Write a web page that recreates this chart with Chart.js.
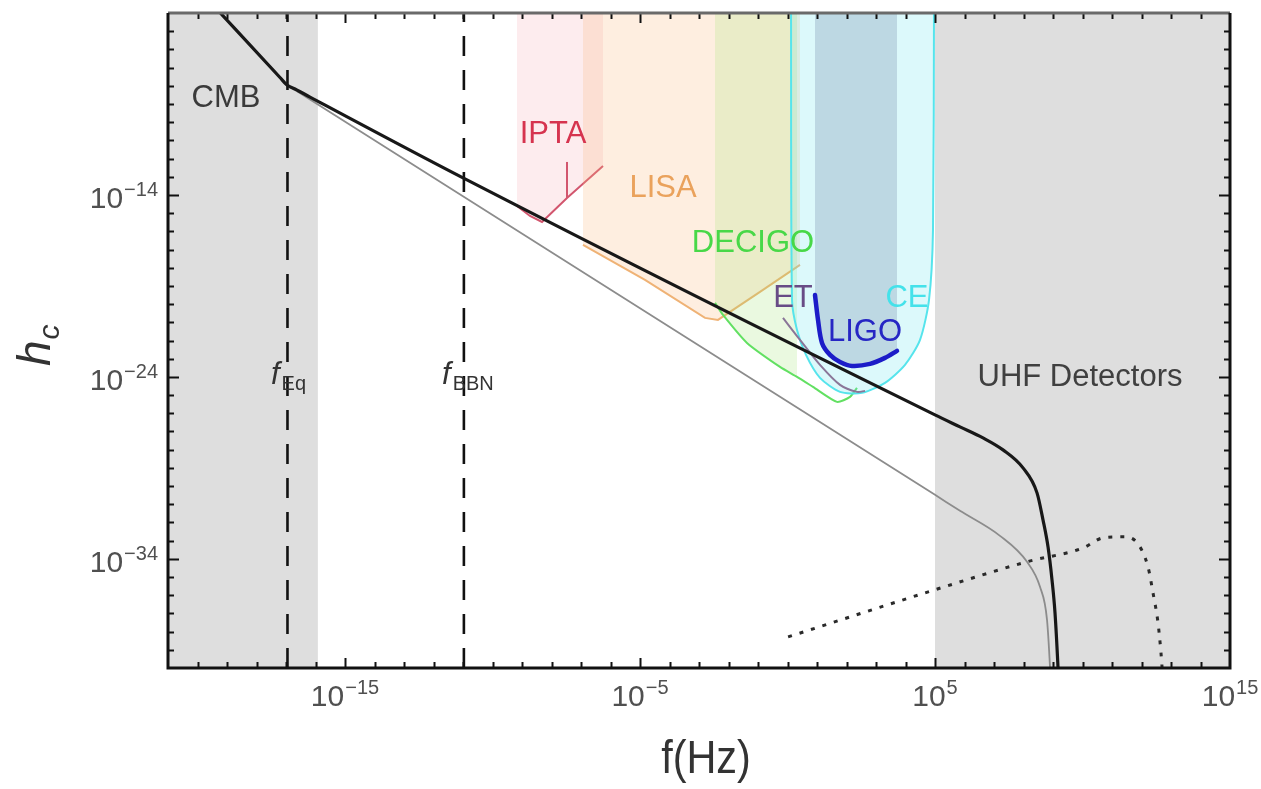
<!DOCTYPE html>
<html>
<head>
<meta charset="utf-8">
<title>Characteristic strain spectrum</title>
<script src="https://cdn.jsdelivr.net/npm/chart.js@4.4.1/dist/chart.umd.min.js"></script>
<style>
  html, body { margin: 0; padding: 0; background: #ffffff; }
  canvas { display: block; }
</style>
</head>
<body>
<canvas id="chart" width="1261" height="789"></canvas>
<script>
// All values are base-10 exponents: f in Hz, h_c dimensionless.

// Axis extent and labelled decades
const xRangeExp = [-21, 15];
const yRangeExp = [-40, -4];
const xTickExps = [-15, -5, 5, 15];
const yTickExps = [-14, -24, -34];

// Characteristic strain of the signal (solid black)
const signalFreqExp   = [-19.475, -17.203, -16.966, -16.695, -16.186, -10.932, 5.000, 5.847, 6.627, 7.305, 7.983, 8.458, 8.661, 8.831, 8.966, 9.068, 9.169, 9.203];
const signalStrainExp = [-3.560, -7.544, -7.956, -8.176, -8.621, -13.121, -26.088, -26.747, -27.352, -28.011, -29.000, -30.374, -31.857, -33.341, -35.154, -36.967, -39.934, -41.198];

// Reference spectrum (thin grey)
const referenceFreqExp   = [-19.475, -17.203, -16.966, -16.695, -16.186, 5.000, 5.847, 7.203, 8.119, 8.559, 8.797, 8.898, 8.932];
const referenceStrainExp = [-3.560, -7.544, -7.956, -8.231, -8.758, -30.484, -31.363, -32.736, -34.165, -35.538, -37.352, -39.934, -41.198];

// High-frequency component (dotted)
const dottedFreqExp   = [0.02, 5.00, 8.12, 10.02, 10.69, 11.37, 11.85, 12.22, 12.39, 12.56, 12.66, 12.72];
const dottedStrainExp = [-38.29, -35.70, -34.16, -33.40, -32.85, -32.79, -33.12, -34.44, -35.87, -37.52, -39.16, -40.50];

// Detector sensitivity curves
const iptaFreqExp     = [-9.169, -8.729, -8.322, -7.475, -6.254];
const iptaStrainExp   = [-14.604, -15.154, -15.484, -14.165, -12.407];
const iptaSpikeFreqExp   = [-7.475, -7.475];
const iptaSpikeStrainExp = [-14.165, -12.187];

const lisaFreqExp     = [-6.932, -4.831, -2.797, -2.356, -0.932, 0.424];
const lisaStrainExp   = [-16.747, -18.670, -20.758, -20.868, -19.330, -17.846];

const decigoFreqExp   = [-2.458, -2.186, -1.373, -0.254, 0.322, 0.864, 1.678, 2.119, 2.356];
const decigoStrainExp = [-19.934, -20.593, -22.132, -23.451, -24.000, -24.549, -25.374, -25.099, -24.604];
const decigoShadedPoints = 5;   // the shaded DECIGO band stops where the CE band begins

const ceFreqExp       = [0.119, 0.153, 0.322, 0.627, 1.102, 1.780, 2.525, 3.305, 3.983, 4.492, 4.797, 4.932, 4.966];
const ceStrainExp     = [-3.286, -19.769, -21.418, -22.791, -24.055, -24.824, -24.879, -24.330, -23.341, -21.967, -19.769, -15.923, -3.286];

const etFreqExp       = [-0.153, 0.424, 1.102, 1.780, 2.356, 2.627];
const etStrainExp     = [-20.758, -21.967, -23.341, -24.440, -24.824, -24.769];

const ligoFreqExp     = [0.932, 1.034, 1.169, 1.441, 1.780, 2.186, 2.797, 3.305, 3.712];
const ligoStrainExp   = [-19.495, -20.868, -22.132, -22.791, -23.176, -23.396, -23.286, -22.956, -22.571];

// Excluded / unprobed frequency bands (grey)
const cmbBandExp = [-21, -15.92];
const uhfBandExp = [5, 15];

// Characteristic frequencies (dashed verticals)
const fEqExp  = -16.95;
const fBBNExp = -10.97;

const toPoints = (fx, hx) => fx.map((f, i) => ({ x: Math.pow(10, f), y: Math.pow(10, hx[i]) }));
const vertical = (fx) => [{ x: Math.pow(10, fx), y: Math.pow(10, yRangeExp[0]) }, { x: Math.pow(10, fx), y: Math.pow(10, yRangeExp[1]) }];

const FONT = '"Liberation Sans", Arial, Helvetica, sans-serif';

// Text annotations, anchored in data coordinates
const annotations = [
  { text: 'CMB',           f: -19.034, h: -8.670,  color: '#3a3a3a' },
  { text: 'IPTA',          f: -7.949,  h: -10.648, color: '#d6344f' },
  { text: 'LISA',          f: -4.220,  h: -13.670, color: '#eaa25c' },
  { text: 'DECIGO',        f: -1.169,  h: -16.692, color: '#48d848' },
  { text: 'ET',            f: 0.186,   h: -19.715, color: '#684c86' },
  { text: 'LIGO',          f: 2.627,   h: -21.582, color: '#2626c4' },
  { text: 'CE',            f: 4.051,   h: -19.715, color: '#44e2ea' },
  { text: 'UHF Detectors', f: 9.915,   h: -24.055, color: '#404040' }
];

function drawPower(ctx, exp, x, y, align) {
  const base = '10';
  const sup = exp < 0 ? '\u2212' + Math.abs(exp) : String(exp);
  ctx.font = '30px ' + FONT;
  const wb = ctx.measureText(base).width;
  ctx.font = '20px ' + FONT;
  const ws = ctx.measureText(sup).width;
  const total = wb + 1 + ws;
  const left = align === 'right' ? x - total : x - total / 2;
  ctx.textAlign = 'left';
  ctx.textBaseline = 'alphabetic';
  ctx.font = '30px ' + FONT;
  ctx.fillText(base, left, y);
  ctx.font = '20px ' + FONT;
  ctx.fillText(sup, left + wb + 1, y - 12);
}

function drawSubscripted(ctx, main, sub, cx, baseline, mainSize, subSize, subDrop) {
  ctx.font = 'italic ' + mainSize + 'px ' + FONT;
  const wm = ctx.measureText(main).width;
  ctx.font = subSize + 'px ' + FONT;
  const ws = ctx.measureText(sub).width;
  const left = cx - (wm + 2 + ws) / 2;
  ctx.textAlign = 'left';
  ctx.textBaseline = 'alphabetic';
  ctx.font = 'italic ' + mainSize + 'px ' + FONT;
  ctx.fillText(main, left, baseline);
  ctx.font = subSize + 'px ' + FONT;
  ctx.fillText(sub, left + wm + 2, baseline + subDrop);
}

const decorations = {
  id: 'decorations',
  beforeDatasetsDraw(chart) {
    const { ctx, chartArea: a, scales: { x } } = chart;
    ctx.save();
    ctx.fillStyle = '#dedede';
    for (const band of [cmbBandExp, uhfBandExp]) {
      const x0 = x.getPixelForValue(Math.pow(10, band[0]));
      const x1 = x.getPixelForValue(Math.pow(10, band[1]));
      ctx.fillRect(x0, a.top, x1 - x0, a.bottom - a.top);
    }
    ctx.restore();
  },
  afterDatasetsDraw(chart) {
    const { ctx, scales: { x, y } } = chart;
    ctx.save();
    ctx.textAlign = 'center';
    ctx.textBaseline = 'middle';
    ctx.font = '31px ' + FONT;
    for (const a of annotations) {
      ctx.fillStyle = a.color;
      ctx.fillText(a.text, x.getPixelForValue(Math.pow(10, a.f)), y.getPixelForValue(Math.pow(10, a.h)));
    }
    // Labels of the characteristic frequencies
    ctx.fillStyle = '#333333';
    const labelY = y.getPixelForValue(Math.pow(10, -24.4));
    drawSubscripted(ctx, 'f', 'Eq', x.getPixelForValue(Math.pow(10, fEqExp)) + 1, labelY, 31, 20, 6);
    drawSubscripted(ctx, 'f', 'BBN', x.getPixelForValue(Math.pow(10, fBBNExp)) + 4, labelY, 31, 20, 6);
    ctx.restore();
  },
  afterDraw(chart) {
    const { ctx, chartArea: a, scales: { x, y } } = chart;
    ctx.save();
    // Inward ticks on all four sides
    ctx.strokeStyle = '#111111';
    ctx.lineWidth = 2;
    ctx.beginPath();
    for (let e = xRangeExp[0] + 1; e < xRangeExp[1]; e++) {
      const px = Math.round(x.getPixelForValue(Math.pow(10, e))) + 0.5;
      const len = xTickExps.includes(e) ? 10 : 6;
      ctx.moveTo(px, a.bottom); ctx.lineTo(px, a.bottom - len);
      ctx.moveTo(px, a.top); ctx.lineTo(px, a.top + len);
    }
    for (let e = yRangeExp[0] + 1; e < yRangeExp[1]; e++) {
      const py = Math.round(y.getPixelForValue(Math.pow(10, e))) + 0.5;
      const len = yTickExps.includes(e) ? 11 : 6;
      ctx.moveTo(a.left, py); ctx.lineTo(a.left + len, py);
      ctx.moveTo(a.right, py); ctx.lineTo(a.right - len, py);
    }
    ctx.stroke();

    // Frame
    ctx.lineWidth = 3;
    ctx.strokeStyle = '#6a6a6a';
    ctx.beginPath(); ctx.moveTo(a.left, a.top); ctx.lineTo(a.right, a.top); ctx.stroke();
    ctx.strokeStyle = '#111111';
    ctx.beginPath();
    ctx.moveTo(a.right, a.top); ctx.lineTo(a.right, a.bottom);
    ctx.lineTo(a.left, a.bottom); ctx.lineTo(a.left, a.top);
    ctx.stroke();

    // Tick labels
    ctx.fillStyle = '#505050';
    for (const e of xTickExps) {
      drawPower(ctx, e, x.getPixelForValue(Math.pow(10, e)), a.bottom + 38, 'center');
    }
    for (const e of yTickExps) {
      drawPower(ctx, e, a.left - 10, y.getPixelForValue(Math.pow(10, e)) + 13, 'right');
    }

    // Axis titles
    ctx.fillStyle = '#333333';
    ctx.save();
    ctx.translate(706, 773);
    ctx.scale(0.9, 1);
    ctx.textAlign = 'center';
    ctx.textBaseline = 'alphabetic';
    ctx.font = '46px ' + FONT;
    ctx.fillText('f(Hz)', 0, 0);
    ctx.restore();

    ctx.save();
    ctx.translate(50, 366);
    ctx.rotate(-Math.PI / 2);
    ctx.textAlign = 'left';
    ctx.textBaseline = 'alphabetic';
    ctx.font = 'italic 46px ' + FONT;
    ctx.fillText('h', 0, 0);
    const wh = ctx.measureText('h').width;
    ctx.font = 'italic 30px ' + FONT;
    ctx.fillText('c', wh + 1, 9);
    ctx.restore();

    ctx.restore();
  }
};

const curve = (data, color, width, order, extra) => Object.assign({
  data, borderColor: color, borderWidth: width, order,
  pointRadius: 0, fill: false, tension: 0, clip: 0
}, extra || {});

const smooth = { cubicInterpolationMode: 'monotone' };

new Chart(document.getElementById('chart'), {
  type: 'line',
  data: {
    datasets: [
      curve(toPoints(signalFreqExp, signalStrainExp), '#181818', 3.2, 1, smooth),
      curve(toPoints(dottedFreqExp, dottedStrainExp), '#2a2a2a', 3, 2, Object.assign({ borderDash: [4, 8] }, smooth)),
      curve(toPoints(referenceFreqExp, referenceStrainExp), '#8c8c8c', 1.8, 3, smooth),
      curve(vertical(fEqExp), '#111111', 2.6, 4, { borderDash: [20, 14] }),
      curve(vertical(fBBNExp), '#111111', 2.6, 4, { borderDash: [20, 14] }),
      curve(toPoints(ligoFreqExp, ligoStrainExp), '#1c1cc8', 4.5, 5, { fill: 'end', backgroundColor: 'rgba(55,75,120,0.19)', borderCapStyle: 'round', tension: 0.3 }),
      curve(toPoints(etFreqExp, etStrainExp), '#8a7698', 2, 6, { tension: 0.3 }),
      curve(toPoints(ceFreqExp, ceStrainExp), '#56e4ec', 2, 7, { fill: 'end', backgroundColor: 'rgba(110,228,240,0.24)', tension: 0.25 }),
      curve(toPoints(decigoFreqExp, decigoStrainExp), '#62e062', 2, 8, { tension: 0.2 }),
      curve(toPoints(decigoFreqExp.slice(0, decigoShadedPoints), decigoStrainExp.slice(0, decigoShadedPoints)), 'rgba(0,0,0,0)', 0, 8, { fill: 'end', backgroundColor: 'rgba(150,225,100,0.20)' }),
      curve(toPoints(lisaFreqExp, lisaStrainExp), '#efb275', 2, 9, { fill: 'end', backgroundColor: 'rgba(252,186,124,0.24)' }),
      curve(toPoints(iptaSpikeFreqExp, iptaSpikeStrainExp), '#d2566e', 2, 10),
      curve(toPoints(iptaFreqExp, iptaStrainExp), '#d2566e', 2, 10, { fill: 'end', backgroundColor: 'rgba(245,150,160,0.18)' })
    ]
  },
  options: {
    responsive: false,
    animation: false,
    devicePixelRatio: 1,
    layout: { padding: { left: 168, right: 31, top: 13, bottom: 121 } },
    plugins: {
      legend: { display: false },
      tooltip: { enabled: false },
      filler: { propagate: false }
    },
    scales: {
      x: { type: 'logarithmic', min: Math.pow(10, xRangeExp[0]), max: Math.pow(10, xRangeExp[1]), display: false },
      y: { type: 'logarithmic', min: Math.pow(10, yRangeExp[0]), max: Math.pow(10, yRangeExp[1]), display: false }
    }
  },
  plugins: [decorations]
});
</script>
</body>
</html>
